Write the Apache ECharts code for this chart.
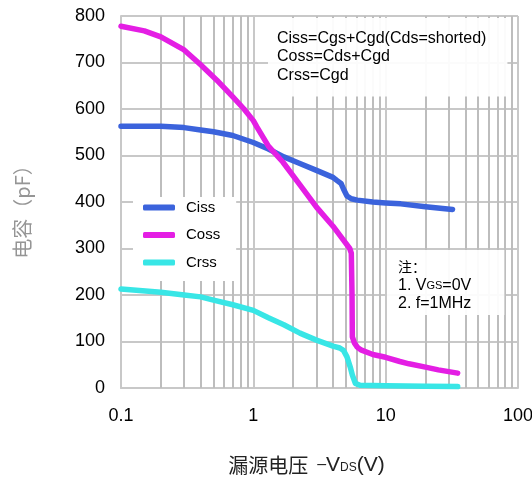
<!DOCTYPE html>
<html><head><meta charset="utf-8">
<script src="https://cdn.jsdelivr.net/npm/echarts@6/dist/echarts.min.js"></script>
<style>html,body{margin:0;padding:0;background:#fff}#c{width:532px;height:479px}</style>
</head><body><div id="c"></div>
<script>
// ---- data ----
const seriesNames = ['Ciss', 'Coss', 'Crss'];
const xTickLabels = ['0.1', '1', '10', '100'];
const yTickLabels = ['0', '100', '200', '300', '400', '500', '600', '700', '800'];
const minorGridVds = [0.2,0.3,0.4,0.5,0.6,0.7,0.8,0.9, 2,3,4,5,6,7,8,9, 20,30,40,50,60,70,80,90];

const cissVds = [0.1, 0.2, 0.3, 0.4, 0.5, 0.7, 1.0, 1.3, 1.7, 2.2, 3.0, 4.0, 4.3, 4.6, 4.8, 5.1, 5.5, 6.1, 8, 10, 13, 20, 32];
const cissPf  = [563, 563, 560, 555, 551, 543, 528, 514, 497, 484, 468, 453, 446, 440, 428, 413, 407, 404, 400, 398, 396, 390, 384];

const cossVds = [0.1, 0.15, 0.2, 0.3, 0.4, 0.53, 0.7, 0.85, 1.0, 1.06, 1.3, 1.67, 2.25, 3.0, 4.0, 4.8, 5.35, 5.5, 5.57, 5.6, 5.8, 6.1, 6.5, 8, 10, 12.8, 15, 20, 25, 35];
const cossPf  = [778, 768, 755, 727, 695, 662, 626, 600, 575, 562, 520, 486, 437, 389, 348, 318, 300, 290, 200, 110, 97, 88, 82, 72, 66, 57, 52, 45, 39, 32];

const crssVds = [0.1, 0.2, 0.3, 0.4, 0.5, 0.7, 1.0, 1.3, 1.7, 2.25, 3.0, 4.0, 4.5, 4.8, 5.1, 5.4, 5.6, 5.9, 6.4, 10, 20, 35];
const crssPf  = [213, 206, 200, 196, 189, 179, 167, 151, 136, 118, 103, 90, 86, 81, 67, 45, 28, 10, 6, 5, 4, 3];

const colors = ['#3b63dc', '#e41ee4', '#38e6e6'];
const gridColor = '#c8c8c8';
const minorGridColor = '#bdbdbd';

function zip(a, b) { return a.map((v, i) => [v, b[i]]); }
const curves = [zip(cissVds, cissPf), zip(cossVds, cossPf), zip(crssVds, crssPf)];

const chart = echarts.init(document.getElementById('c'), null, { renderer: 'canvas' });
const latin = '"Liberation Sans", Arial, sans-serif';
const cjk = '"Noto Sans CJK SC", sans-serif';

const option = {
  animation: false,
  backgroundColor: '#fff',
  textStyle: { fontFamily: latin },
  grid: { left: 121, right: 14, top: 16, bottom: 91, containLabel: false, outerBoundsMode: 'none' },
  xAxis: {
    type: 'log', logBase: 10, min: 0.1, max: 100,
    axisLine: { show: true, lineStyle: { color: gridColor, width: 2 } },
    axisTick: { show: false },
    axisLabel: {
      margin: 19, fontSize: 18, color: '#000', fontFamily: latin,
      formatter: v => xTickLabels[Math.round(Math.log10(v)) + 1]
    },
    splitLine: { show: true, lineStyle: { color: gridColor, width: 2 } },
    name: '{cn|漏源电压}{d|  –}{v|V}{s|DS}{v|(V)}',
    nameLocation: 'middle', nameGap: 64,
    nameTextStyle: {
      padding: [0, 26, 0, 0],
      rich: {
        cn: { fontFamily: cjk, fontSize: 20, color: '#222', lineHeight: 26 },
        d: { fontFamily: latin, fontSize: 16, color: '#222', lineHeight: 26 },
        v: { fontFamily: latin, fontSize: 21, color: '#222', lineHeight: 26 },
        s: { fontFamily: latin, fontSize: 12, color: '#222', lineHeight: 26, verticalAlign: 'bottom', padding: [0, 0, 4, 0] }
      }
    }
  },
  yAxis: {
    type: 'value', min: 0, max: 800, interval: 100,
    axisLine: { show: true, lineStyle: { color: gridColor, width: 2 } },
    axisTick: { show: false },
    axisLabel: {
      margin: 16, fontSize: 18, color: '#000', fontFamily: latin,
      formatter: v => yTickLabels[Math.round(v / 100)]
    },
    splitLine: { show: true, lineStyle: { color: gridColor, width: 2 } },
    name: '电容（pF）', nameLocation: 'middle', nameRotate: 90, nameGap: 89,
    nameTextStyle: { fontFamily: cjk, fontSize: 20, color: '#959595', padding: [0, 10, 0, 0] }
  },
  legend: {
    orient: 'vertical', left: 133, top: 197,
    padding: [2, 16, 10, 10], itemGap: 10.5,
    itemWidth: 32, itemHeight: 6, icon: 'roundRect',
    backgroundColor: '#fff',
    textStyle: { fontSize: 15, color: '#000', lineHeight: 17, padding: [0, 0, 0, 6], fontFamily: latin },
    data: seriesNames,
    selectedMode: false
  },
  title: [
    {
      text: 'Ciss=Cgs+Cgd(Cds=shorted)\nCoss=Cds+Cgd\nCrss=Cgd',
      left: 268, top: 18, padding: [11, 21, 12, 9],
      backgroundColor: 'rgba(255,255,255,0.93)',
      textStyle: { fontSize: 16, fontWeight: 'normal', color: '#000', lineHeight: 18.5, fontFamily: latin }
    },
    {
      text: '{cn|注：}\n1. V{s|GS}=0V\n2. f=1MHz',
      left: 387, top: 250, padding: [7, 33, 2, 11],
      backgroundColor: 'rgba(255,255,255,0.93)',
      textStyle: {
        fontSize: 16, fontWeight: 'normal', color: '#000', lineHeight: 18.5, fontFamily: latin,
        rich: {
          cn: { fontFamily: cjk, fontSize: 14, lineHeight: 19, color: '#000' },
          s: { fontFamily: latin, fontSize: 11, lineHeight: 18.5, color: '#000', verticalAlign: 'bottom', padding: [0, 0, 3, 0] }
        }
      }
    }
  ],
  series: [
    {
      type: 'line', name: 'minorGrid', data: [], silent: true, z: 1,
      markLine: {
        silent: true, z: 1, animation: false,
        symbol: ['none', 'none'],
        label: { show: false },
        emphasis: { disabled: true },
        lineStyle: { color: minorGridColor, width: 2, type: 'solid', opacity: 1 },
        data: minorGridVds.map(v => ({ xAxis: v }))
      }
    }
  ].concat(seriesNames.map((n, i) => ({
    type: 'line', name: n, data: curves[i], z: 3,
    symbol: 'none', showSymbol: false, smooth: false,
    color: colors[i],
    itemStyle: { color: colors[i] },
    lineStyle: { color: colors[i], width: 5.5, cap: 'round', join: 'round' },
    emphasis: { disabled: true }
  })))
};
chart.setOption(option);
</script>
</body></html>
